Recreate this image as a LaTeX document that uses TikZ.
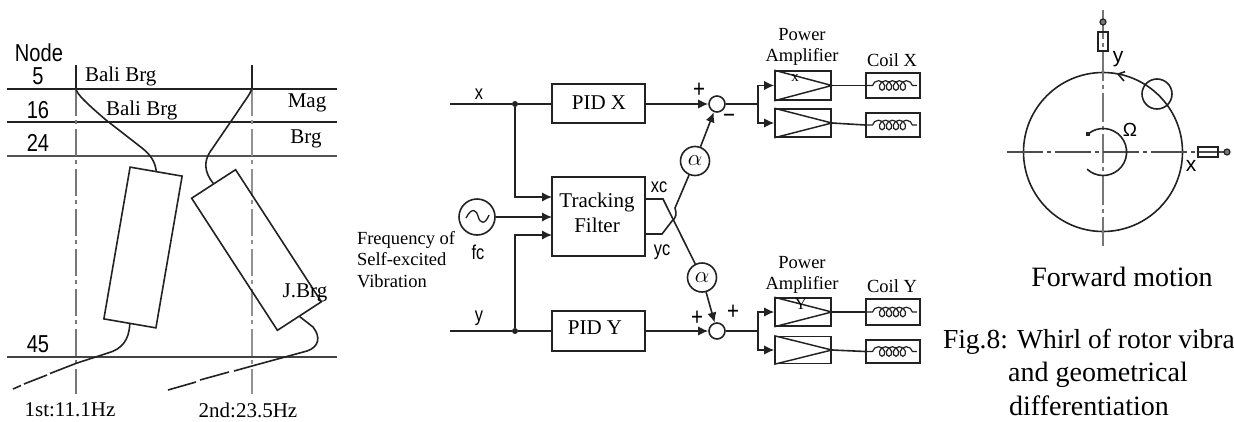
\documentclass[tikz,border=0pt]{standalone}
\usepackage{fontspec}
\setmainfont{Liberation Serif}
\newfontfamily\narrowsans[FakeStretch=0.82]{Liberation Sans}
\usetikzlibrary{arrows.meta,decorations.pathmorphing,calc}
\newcommand{\sz}[1]{\fontsize{\dimexpr#1pt*3/4\relax}{\dimexpr#1pt\relax}\selectfont}
\definecolor{ink}{HTML}{222222}
\definecolor{axisgray}{HTML}{777777}
\def\px{0.75pt}
\tikzset{
  x=0.75pt,y=-0.75pt,
  ln/.style={draw=ink,line width=1.2pt},
  thin ln/.style={draw=ink,line width=1.1pt},
  arr/.style={ln,-{Latex[length=7.5pt,width=7pt]}},
  axis/.style={draw=axisgray,line width=0.9pt,dash pattern=on 20pt off 3.5pt on 3pt off 3.5pt},
  txt/.style={inner sep=0pt,outer sep=0pt,text=black,align=center},
  lab/.style={txt,font=\sz{21}},
  smalllab/.style={txt,font=\sz{18.5}},
  biglab/.style={txt,font=\sz{28}},
  gothic/.style={txt,font=\narrowsans\sz{24.5}},
  sig/.style={txt,font=\narrowsans\sz{20}},
  blockbox/.style={draw=ink,line width=1.2pt,rectangle,inner sep=0pt,minimum width=93*\px},
  ampbox/.style={draw=ink,line width=1.2pt,rectangle,inner sep=0pt,minimum width=56*\px},
  coilbox/.style={draw=ink,line width=1.2pt,rectangle,inner sep=0pt,minimum width=54*\px},
  tilted/.style={draw=ink,line width=1.2pt,rectangle,inner sep=0pt},
  sumc/.style={draw=ink,line width=1.2pt,circle,inner sep=0pt,minimum size=16*\px},
  gain/.style={draw=ink,line width=1.2pt,circle,inner sep=0pt,minimum size=29*\px,font=\sz{24}},
  dot/.style={fill=ink,circle,inner sep=0pt,minimum size=6*\px},
  coilwire/.style={draw=ink,line width=0.9pt,decorate,decoration={coil,aspect=0.9,segment length=5.2pt,amplitude=3.6pt,pre length=4pt,post length=2pt}},
  sensor/.style={draw=ink,line width=0.9pt,rectangle,inner sep=0pt},
}
\begin{document}
\begin{tikzpicture}
\useasboundingbox (0,0) rectangle (1234,421);
\clip (0,0) rectangle (1234,421);
\fill[white] (0,0) rectangle (1234,421);

% ---------- left panel: mode shapes
\coordinate (h1l) at (7,89);   \coordinate (h1r) at (337,89);
\coordinate (h2l) at (7,122);  \coordinate (h2r) at (337,122);
\coordinate (h3l) at (7,156);  \coordinate (h3r) at (337,156);
\coordinate (h4l) at (7,357);  \coordinate (h4r) at (337,357);
\draw[ln] (h1l) -- (h1r);
\draw[ln] (h2l) -- (h2r);
\draw[ln,draw=axisgray!70!black] (h3l) -- (h3r);
\draw[draw=ink!85,line width=1.7pt] (h4l) -- (h4r);
\coordinate (v1t) at (76,65);  \coordinate (v1m) at (76,89);  \coordinate (v1b) at (76,394);
\coordinate (v2t) at (252,65); \coordinate (v2m) at (252,89); \coordinate (v2b) at (252,394);
\draw[ln] (v1t) -- (v1m);
\draw[ln] (v2t) -- (v2m);
\draw[axis] (v1m) -- (v1b);
\draw[axis,draw=axisgray!80] (v2m) -- (v2b);

\node[tilted,minimum width=52.8*\px,minimum height=154*\px,rotate=-9.8] (rotorA) at (143,247.5) {};
\node[tilted,minimum width=52.4*\px,minimum height=157.5*\px,rotate=33] (rotorB) at (256.5,250) {};

\draw[ln] (v1m) .. controls (77,94) and (85,102) .. (106,120) -- (142,148)
  .. controls (151,155) and (155,162) .. (rotorA.north);
\draw[ln] (v2m) .. controls (250,94) and (246,99) .. (236,114) -- (210,152)
  .. controls (204,161) and (204,172) .. (rotorB.north);
\draw[ln] (rotorA.south) .. controls (129,340) and (122,349) .. (108,353)
  -- (77,363) -- (50,373.5) (47,375) -- (24,384) (21,385.5) -- (13,389);
\draw[ln] (rotorB.south) -- (313,327) .. controls (321,337) and (319,347) .. (307,351)
  -- (252,366) -- (234,371) (229,372) -- (200,380) (196,382) -- (168,390);

\node[gothic] (tnode) at (39,53) {Node};
\node[gothic] (t5)  at (38,76) {5};
\node[gothic] (t16) at (38,110) {16};
\node[gothic] (t24) at (38,143) {24};
\node[gothic] (t45) at (38,344) {45};
\node[lab,anchor=west] (bb1) at (85,76) {Bali Brg};
\node[lab,anchor=west] (bb2) at (106,110) {Bali Brg};
\node[lab] (tmag) at (307,103) {Mag};
\node[lab] (tbrg) at (306,139) {Brg};
\node[lab] (tjb)  at (305,293) {J.Brg};
\node[lab] (t1st) at (70,410) {1st:11.1Hz};
\node[lab] (t2nd) at (248,410) {2nd:23.5Hz};

% ---------- middle: block diagram
\node[blockbox,minimum height=39*\px] (pidx) at (598.5,103.5) {};
\node[lab] (pidxt) at (599,103) {PID X};
\node[blockbox,minimum height=79*\px] (tf) at (598.5,216.5) {};
\node[lab] (tft) at (597,212.5) {Tracking\\[-2.25pt]Filter};
\node[blockbox,minimum height=40*\px] (pidy) at (598.5,331) {};
\node[lab] (pidyt) at (595,328) {PID Y};

\coordinate (xin) at (450,104);
\coordinate (yin) at (450,331);
\node[dot] (jx) at (515,104) {};
\node[dot] (jy) at (515,331) {};
\draw[ln] (xin) -- (jx) -- (jx -| pidx.west);
\draw[ln] (yin) -- (jy) -- (jy -| pidy.west);
\coordinate (tfa) at (552,197);
\coordinate (tfb) at (552,217);
\coordinate (tfc) at (552,235);
\draw[arr] (jx) |- (tfa);
\draw[arr] (jy) |- (tfc);
\node[draw=ink,line width=1.2pt,circle,inner sep=0pt,minimum size=36*\px] (osc) at (477,217) {};
\draw[arr] (osc) -- (tfb);
\draw[draw=ink,line width=1pt] ($(osc.center)+(-11,1)$) .. controls ($(osc.center)+(-5,-11)$) and ($(osc.center)+(0,-6)$) .. ($(osc.center)+(1,-1)$)
   .. controls ($(osc.center)+(3,7)$) and ($(osc.center)+(8,8)$) .. ($(osc.center)+(12,-2)$);

\node[sig] (lx) at (479,94) {x};
\node[sig] (ly) at (479,318) {y};
\node[sig] (lfc) at (478,252) {fc};
\node[sig] (lxc) at (659,187) {xc};
\node[sig] (lyc) at (662,252) {yc};
\node[smalllab,anchor=west,align=left] (freq) at (357,259.5) {Frequency of\\[-2.4pt]Self-excited\\[-2.4pt]Vibration};

\node[sumc] (s1) at (717,104) {};
\node[sumc] (s2) at (717,331) {};
\node[gain] (ga) at (695,161) {$\alpha$};
\node[gain] (gb) at (702,277.5) {$\alpha$};
\draw[arr] (pidx.east |- s1) -- (s1);
\draw[arr] (pidy.east |- s2) -- (s2);

\coordinate (xc1) at (663,199);
\coordinate (yc1) at (662,234);
\coordinate (yc2) at (672,221);
\coordinate (yc3) at (675,208);
\draw[ln] (tf.east |- xc1) -- (xc1) -- (gb);
\draw[ln] (tf.east |- yc1) -- (yc1) -- (yc2) .. controls (676,218) and (677,214) .. (yc3) -- (ga);
\draw[arr] (ga) -- (s1);
\draw[arr] (gb) -- (s2);

\node[txt,font=\narrowsans\sz{25}] (p1) at (699,90) {+};
\node[txt,font=\narrowsans\sz{25}] (m1) at (729,119) {−};
\node[txt,font=\narrowsans\sz{25}] (p2) at (697,318) {+};
\node[txt,font=\narrowsans\sz{25}] (p3) at (733,312) {+};

% amplifiers
\node[ampbox,minimum height=29*\px] (a1) at (803,85.5) {};
\node[ampbox,minimum height=28*\px] (a2) at (803,123) {};
\node[ampbox,minimum height=28*\px] (a3) at (803,312) {};
\node[ampbox,minimum height=27*\px] (a4) at (803,350) {};
\foreach \a in {a1,a2,a3,a4}{
  \draw[thin ln] (\a.north west) -- (\a.east) -- (\a.south west);
}
\node[txt,font=\sz{15}] (ax) at (795,78) {x};
\node[txt,font=\sz{16}] (ay) at (801,304) {Y};

\coordinate (b1) at (758,104);
\coordinate (b2) at (758,331);
\draw[ln] (s1) -- (b1);
\draw[ln] (s2) -- (b2);
\draw[arr] (b1) |- (a1.west);
\draw[arr] (b1) |- (a2.west);
\draw[arr] (b2) |- (a3.west);
\draw[arr] (b2) |- (a4.west);

% coils
\node[coilbox,minimum height=25*\px] (c1) at (893,85.5) {};
\node[coilbox,minimum height=24*\px] (c2) at (893,125) {};
\node[coilbox,minimum height=26*\px] (c3) at (893,312) {};
\node[coilbox,minimum height=23*\px] (c4) at (893,351.5) {};
\draw[ln] (a1.east) -- (c1.west);
\draw[ln] (a2.east) -- (c2.west);
\draw[ln] (a3.east) -- (c3.west);
\draw[ln] (a4.east) -- (c4.west);
\foreach \c in {c1,c2,c3,c4}{
  \draw[coilwire] ($(\c.west)+(2,0)$) -- ($(\c.east)+(-4,0)$);
}

\node[smalllab] (pa1) at (802,47) {Power\\[-2.75pt]Amplifier};
\node[smalllab] (pa2) at (802,275) {Power\\[-2.75pt]Amplifier};
\node[smalllab] (cx) at (892,60) {Coil X};
\node[smalllab] (cy) at (892,286) {Coil Y};

% ---------- right: whirl
\coordinate (vt) at (1103,10);
\coordinate (vb) at (1103,248);
\coordinate (hl) at (1007,152);
\coordinate (hr) at (1230,152);
\node[draw=ink,line width=1.2pt,circle,inner sep=0pt,minimum size=159*\px] (disk) at (1103,152) {};
\draw[draw=axisgray,line width=0.9pt,dash pattern=on 22pt off 3pt on 3pt off 3pt] (vt) -- (vb);
\draw[draw=ink!80,line width=0.9pt,dash pattern=on 27pt off 3pt on 3pt off 3pt] (hl) -- (hr);
\node[sensor,minimum width=10*\px,minimum height=19*\px] (sy) at (1103,41.5) {};
\node[sensor,minimum width=20*\px,minimum height=10*\px] (sx) at (1208,152) {};
\node[draw=ink,line width=0.9pt,fill=axisgray,circle,inner sep=0pt,minimum size=6*\px] (py) at (1103,22) {};
\node[draw=ink,line width=0.9pt,fill=axisgray,circle,inner sep=0pt,minimum size=6*\px] (px) at (1227,152) {};
\node[draw=ink,line width=1.2pt,circle,inner sep=0pt,minimum size=30*\px] (ball) at (1157,94) {};
\coordinate (wt) at (1118,74);
\coordinate (wa) at (1125,71.7);
\coordinate (wb) at (1124,81);
\draw[ln] (wa) -- (wt) -- (wb);
\coordinate (oms) at (1088,134);
\draw[ln] (oms) arc[start angle=-130,end angle=133,radius=23.5];
\node[fill=ink,rectangle,inner sep=0pt,minimum size=4*\px] (omd) at (oms) {};
\node[txt,font=\fontspec{Liberation Sans}\sz{19}] (om) at (1130,130) {Ω};
\node[sig,font=\fontspec{Liberation Sans}\sz{21}] (wy) at (1118,59) {y};
\node[sig,font=\fontspec{Liberation Sans}\sz{21}] (wx) at (1191,166) {x};

\node[biglab] (fw) at (1122,277) {Forward motion};
\node[txt,font=\sz{27.5},anchor=west] (fig) at (943,342) {Fig.8: Whirl of rotor vibra};
\node[biglab] (g1) at (1098,375) {and geometrical};
\node[biglab] (g2) at (1089,406) {differentiation};
\end{tikzpicture}
\end{document}
